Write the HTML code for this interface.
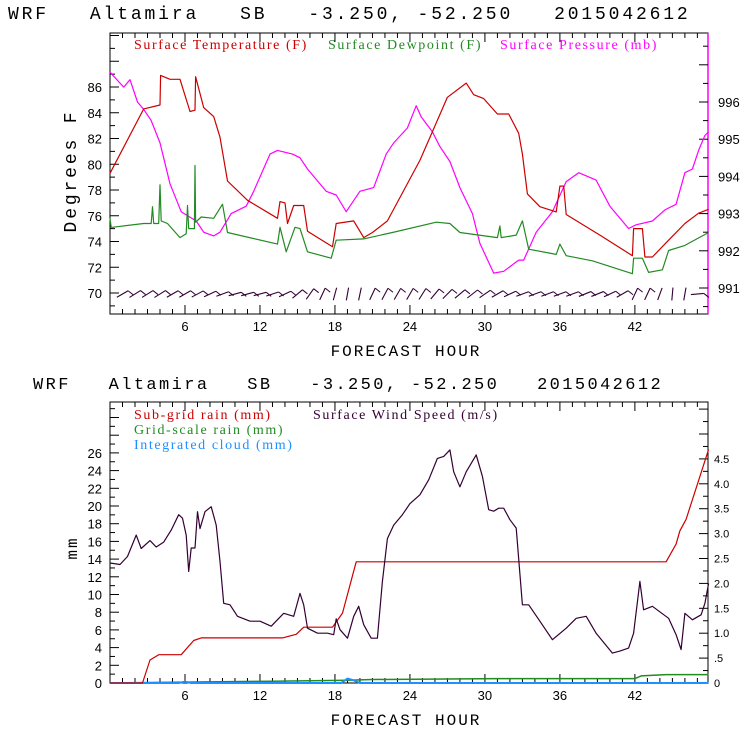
<!DOCTYPE html>
<html><head><meta charset="utf-8"><style>
html,body{margin:0;padding:0;background:#fff;}
svg{display:block;}
text{font-family:"Liberation Sans",sans-serif;}
.ttl{font-family:"Liberation Mono",monospace;font-size:18px;letter-spacing:2.85px;fill:#000;}
.ttl2{font-family:"Liberation Mono",monospace;font-size:17px;letter-spacing:2.4px;fill:#000;}
.ax{font-family:"Liberation Mono",monospace;font-size:16px;letter-spacing:2px;fill:#000;}
.tk{font-size:13px;fill:#000;}
.lg{font-family:"Liberation Serif",serif;font-size:14px;letter-spacing:1.6px;}
</style></head><body>
<svg id="c" width="740" height="740" viewBox="0 0 740 740" xmlns="http://www.w3.org/2000/svg">
<text class="ttl" x="8" y="19" xml:space="preserve">WRF   Altamira   SB   -3.250, -52.250   2015042612</text>
<text class="ttl2" x="33" y="389" xml:space="preserve">WRF   Altamira   SB   -3.250, -52.250   2015042612</text>
<text class="ax" x="406" y="356" text-anchor="middle">FORECAST HOUR</text>
<text class="ax" x="406" y="725" text-anchor="middle">FORECAST HOUR</text>
<text class="ttl" transform="translate(76,171) rotate(-90)" text-anchor="middle">Degrees F</text>
<text class="ax" transform="translate(77,548) rotate(-90)" text-anchor="middle">mm</text>
<text class="lg" x="134" y="49" fill="#cc0000">Surface Temperature (F)</text>
<text class="lg" x="328" y="49" fill="#228b22">Surface Dewpoint (F)</text>
<text class="lg" x="500" y="49" fill="#ff00ff">Surface Pressure (mb)</text>
<text class="lg" x="134" y="419" fill="#cc0000">Sub-grid rain (mm)</text>
<text class="lg" x="313" y="419" fill="#330033">Surface Wind Speed (m/s)</text>
<text class="lg" x="134" y="434" fill="#228b22">Grid-scale rain (mm)</text>
<text class="lg" x="134" y="449" fill="#1e90ff">Integrated cloud (mm)</text>
<g id="g"></g>
</svg>
<script>
// ---- Top chart data ----
const tHours=[0,2.7,4,4.05,4.8,5.6,6.4,6.8,6.85,7.5,8.3,8.8,9.4,11,13.4,13.6,14,14.2,14.7,15.5,15.8,17.8,18.1,19.5,20.3,21,22.2,24.8,27,28.5,29.1,29.9,31,31.9,32.7,33,33.4,34.4,35.7,36,36.3,36.5,39.2,41.8,41.9,42.6,42.8,43.4,44.7,46,47.1,47.9];
const tempF=[79.3,84.3,84.6,86.9,86.6,86.6,84.1,84.2,86.8,84.4,83.7,82.1,78.7,77.2,75.8,77.1,77,75.4,76.8,76.8,74.8,73.6,75.4,75.6,74.3,74.7,75.6,80.3,85.2,86.3,85.4,85.1,83.9,83.9,82.4,80.8,77.7,76.7,76.3,78.3,78.3,76.1,74.5,72.9,75,75,72.8,72.8,74.1,75.4,76.2,76.5];
const dHours=[0,0.1,0.2,2.7,3.3,3.4,3.5,3.9,4,4.1,4.6,5.6,6.1,6.2,6.3,6.75,6.8,6.85,7.3,8.3,9,9.4,13.4,13.6,14.1,14.8,15.2,15.8,17.7,18.1,20.3,22.6,26.1,27.2,28,31,31.2,31.3,32.5,33,33.5,35.7,36,36.5,38.6,41.8,41.9,42.6,43.1,44.2,44.7,46,47.9];
const dewF=[75.8,75.1,75.1,75.4,75.4,76.7,75.4,75.4,78.4,75.6,75.4,74.3,74.6,76.8,75,75,79.9,75.5,75.9,75.8,76.9,74.7,73.8,75.1,73.2,75.1,75,73.2,72.7,74.1,74.2,74.7,75.5,75.4,74.7,74.3,75.2,74.3,74.5,75.6,73.4,73,73.8,72.9,72.5,71.5,72.7,72.7,71.6,71.8,73.3,73.7,74.7];
const pHours=[0,1.1,1.6,2.2,2.7,3.3,4,4.8,5.7,6.9,7.5,8.3,8.8,9.7,10.9,11.5,12.8,13.4,14.6,15.2,15.8,17.3,18.1,18.9,20,21.1,22.1,22.7,23.8,24.5,24.9,25.8,26.4,27.2,28,29,29.6,30.7,31.5,32.7,33.1,34.1,35.4,36.5,37.5,38.9,40,41.5,42.1,43.4,44.4,45.3,46,46.6,47.1,47.6,47.9];
const presMb=[996.8,996.4,996.6,996,995.8,995.5,994.9,993.8,993.05,992.8,992.5,992.4,992.5,993,993.2,993.6,994.6,994.7,994.6,994.5,994.2,993.6,993.5,993.05,993.6,993.7,994.6,994.9,995.3,995.9,995.6,995.2,994.8,994.4,993.7,993,992.2,991.4,991.45,991.75,991.75,992.5,993.05,993.86,994.1,993.9,993.2,992.6,992.7,992.8,993.1,993.25,994.1,994.2,994.7,995.1,995.2];
const barbHours=[1,2,3,4,5,6,7,8,9,10,11,12,13,14,15,16,17,18,19,20,21,22,23,24,25,26,27,28,29,30,31,32,33,34,35,36,37,38,39,40,41,42,43,44,45,46,47];
const barbAngle=[30,32,32,32,30,30,28,25,20,15,15,15,18,25,40,55,65,75,80,78,65,62,60,60,58,50,45,40,38,35,30,25,20,20,20,20,20,22,22,25,30,65,65,70,85,80,5];
const tempTicks=[70,72,74,76,78,80,82,84,86];
const presTicks=[991,992,993,994,995,996];
const hourTicks=[6,12,18,24,30,36,42];
// ---- Bottom chart data ----
const rHours=[0,2.6,3.2,3.9,5.7,6.7,7.3,13.8,14.9,15.5,17.8,18.6,19.7,44.5,45.3,45.6,46.1,47.9];
const subRain=[0,0,2.6,3.2,3.2,4.8,5.1,5.1,5.5,6.3,6.3,7.9,13.7,13.7,15.7,17.2,18.5,26.4];
const gHours=[0,6,13,19,21,31,42,42.5,44.5,47.9];
const gridRain=[0,0.1,0.2,0.3,0.4,0.5,0.5,0.8,0.95,0.95];
const cHours=[0,5.5,6,6.5,18.5,19,19.5,20,47.9];
const cloudMm=[0,0,0.15,0,0,0.5,0.3,0,0];
const wHours=[0,0.8,1.4,2.1,2.5,3.2,3.7,4.3,4.9,5.5,5.8,6.1,6.3,6.5,6.8,7,7.2,7.6,8.1,8.5,8.8,9.1,9.6,10.2,11.2,12,12.9,13.9,14.7,15.2,15.5,15.8,16.6,17.4,17.9,18.1,18.4,19,19.5,19.9,20.3,20.9,21.4,21.8,22.2,22.7,23.4,24,24.8,25.5,26.2,26.7,27.2,27.5,28,28.5,29.3,29.8,30.3,30.7,31.1,31.5,32,32.5,33,33.5,34.4,35.4,36.5,37.3,38.1,38.9,40.2,40.8,41.5,41.9,42.4,42.7,43.4,44.7,45.3,45.7,46,46.6,47.3,47.6,47.9];
const windMs=[2.41,2.38,2.54,2.97,2.7,2.86,2.73,2.83,3.07,3.38,3.31,2.97,2.24,2.71,2.71,3.44,3.1,3.44,3.54,3.17,2.44,1.6,1.57,1.34,1.24,1.24,1.14,1.4,1.34,1.8,1.57,1.1,1.0,1.0,0.97,1.29,1.07,0.9,1.34,1.54,1.17,0.9,0.9,2.04,2.9,3.17,3.38,3.6,3.78,4.08,4.51,4.55,4.68,4.24,3.94,4.24,4.58,4.15,3.48,3.45,3.51,3.51,3.28,3.11,1.57,1.57,1.24,0.87,1.1,1.3,1.34,1.0,0.6,0.64,0.7,1.0,2.04,1.47,1.54,1.3,0.97,0.67,1.4,1.27,1.37,1.6,2.0];
const mmTicks=[0,2,4,6,8,10,12,14,16,18,20,22,24,26];
const windTicks=[0,0.5,1,1.5,2,2.5,3,3.5,4,4.5];
const windTickLabels=["0",".5","1.0","1.5","2.0","2.5","3.0","3.5","4.0","4.5"];

const NS='http://www.w3.org/2000/svg';
const G=document.getElementById('g');
function mk(tag,at){const e=document.createElementNS(NS,tag);for(const k in at)e.setAttribute(k,at[k]);G.appendChild(e);return e;}
const X0=110,X1=708;
const xs=h=>X0+h*(X1-X0)/47.85;
const T0=33,T1=314;
const yT=v=>87+(86-v)*12.875;
const yP=v=>102+(996-v)*37.2;
const B0=402,B1=683;
const yR=v=>683-v*8.85;
const yW=v=>683-v*49.8;

function poly(hs,vs,yf,color,name,w){
  const pts=hs.map((h,i)=>xs(h).toFixed(1)+','+yf(vs[i]).toFixed(1)).join(' ');
  const e=mk('polyline',{points:pts,fill:'none',stroke:color,'stroke-width':w||1.2,'stroke-linejoin':'round'});
  
  
}
function frame(top,bot,name,rightColor){
  const r=mk('rect',{x:X0,y:top,width:X1-X0,height:bot-top,fill:'none',stroke:'#000','stroke-width':1});
  
  
  if(rightColor){const l=mk('line',{x1:X1,y1:top,x2:X1,y2:bot,stroke:rightColor,'stroke-width':1.5});
    
    }
  for(let h=1;h<48;h++){const L=(h%6==0)?9:5;
    const a=mk('line',{x1:xs(h),y1:bot,x2:xs(h),y2:bot-L,stroke:'#000'});
    
    
    mk('line',{x1:xs(h),y1:top,x2:xs(h),y2:top+L,stroke:'#000'});}
  hourTicks.forEach(h=>{const t=mk('text',{x:xs(h),y:bot+17,'text-anchor':'middle',class:'tk'});t.textContent=h;
    
    });
}
frame(T0,T1,'top-plot-frame','#ff00ff');
for(let v=69;v<=90;v++){const y=yT(v);if(y<T0||y>T1)continue;const L=(v%2==0)?9:5;
  const t=mk('line',{x1:X0,y1:y,x2:X0+L,y2:y,stroke:'#000'});
  
  }
tempTicks.forEach(v=>{const t=mk('text',{x:X0-8,y:yT(v)+5,'text-anchor':'end',class:'tk'});t.textContent=v;
  
  });
for(let v=990.5;v<=997.5;v+=0.5){const y=yP(v);if(y<T0||y>T1)continue;const L=(v%1==0)?9:5;
  const t=mk('line',{x1:X1,y1:y,x2:X1-L,y2:y,stroke:'#000'});
  
  }
presTicks.forEach(v=>{const t=mk('text',{x:X1+10,y:yP(v)+5,class:'tk'});t.textContent=v;
  
  });
poly(pHours,presMb,yP,'#ff00ff','pressure-line');
poly(dHours,dewF,yT,'#228b22','dewpoint-line');
poly(tHours,tempF,yT,'#cc0000','temperature-line');
barbHours.forEach((h,i)=>{const a=barbAngle[i]*Math.PI/180,len=13;
  const cx=xs(h),cy=yT(70)+1;
  const x1=cx-Math.cos(a)*len/2,y1=cy+Math.sin(a)*len/2,x2=cx+Math.cos(a)*len/2,y2=cy-Math.sin(a)*len/2;
  const b=mk('line',{x1:x1,y1:y1,x2:x2,y2:y2,stroke:'#330033','stroke-width':1.1});
  
  
  if(barbAngle[i]<70){mk('line',{x1:x2,y1:y2,x2:x2+5,y2:y2+4,stroke:'#330033','stroke-width':1});}
});
frame(B0,B1,'bottom-plot-frame',null);
for(let v=0;v<=31;v++){const y=yR(v);if(y<B0)continue;const L=(v%2==0)?9:5;
  const t=mk('line',{x1:X0,y1:y,x2:X0+L,y2:y,stroke:'#000'});
  
  }
mmTicks.forEach(v=>{const t=mk('text',{x:X0-8,y:yR(v)+5,'text-anchor':'end',class:'tk'});t.textContent=v;
  
  });
for(let v=0.25;v<=5.5;v+=0.25){const y=yW(v);if(y<B0)continue;const L=(v%0.5==0)?9:5;
  const t=mk('line',{x1:X1,y1:y,x2:X1-L,y2:y,stroke:'#000'});
  
  }
windTicks.forEach((v,i)=>{const t=mk('text',{x:X1+6,y:yW(v)+4,class:'tk',style:'font-size:11px'});t.textContent=windTickLabels[i];
  
  });
poly(gHours,gridRain,yR,'#228b22','grid-scale-rain-line',1.5);
poly(cHours,cloudMm,yR,'#1e90ff','integrated-cloud-line',2);
poly(rHours,subRain,yR,'#cc0000','sub-grid-rain-line');
poly(wHours,windMs,yW,'#330033','wind-speed-line');
</script>
</body></html>
